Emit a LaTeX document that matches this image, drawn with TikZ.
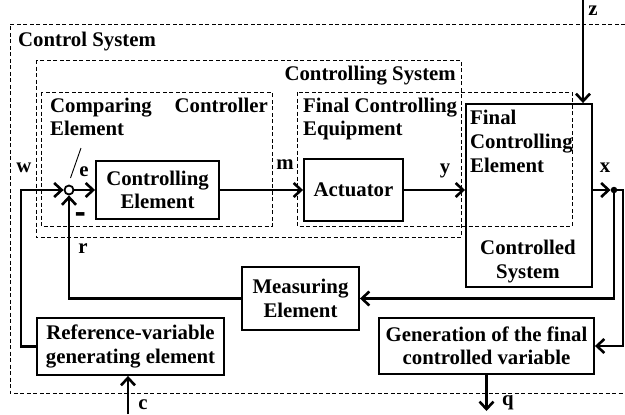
\documentclass[tikz,border=0pt]{standalone}
\usepackage{fontspec}
\setmainfont{Liberation Serif}
\usetikzlibrary{arrows.meta}
\begin{document}
\begin{tikzpicture}[x=1pt,y=-1pt,
  font=\fontsize{20.8}{23.5}\selectfont\bfseries,
  dashbox/.style={draw, dashed, line width=0.9pt, dash pattern=on 4pt off 2.5pt},
  blk/.style={draw, line width=1.9pt, align=center, inner sep=0pt},
  sig/.style={line width=2.9pt, -{Straight Barb[length=7.5pt,width=14pt,line width=2.6pt]}},
  lbl/.style={anchor=base, inner sep=0pt},
  txtw/.style={anchor=base west, inner sep=0pt},
  txte/.style={anchor=base east, inner sep=0pt},
]
\useasboundingbox (0,0) rectangle (625,415);

% dashed regions
\draw[dashbox] (625,24) -- (10,24) -- (10,393) -- (625,393);
\draw[dashbox] (36,60) rectangle (461,237);
\draw[dashbox] (41,92) rectangle (272,226);

% controlled system
\node[blk, minimum width=126pt, minimum height=183pt] (cs) at (529,195.5) {};
\draw[dashbox] (297,92) rectangle (572,226);

% blocks
\node[blk, minimum width=123pt, minimum height=58pt] (ce) at (157.5,190) {Controlling\\Element};
\node[blk, minimum width=99pt, minimum height=62pt] (act) at (353.5,190) {Actuator};
\node[blk, minimum width=117pt, minimum height=63pt] (meas) at (300.5,298.5) {Measuring\\Element};
\node[blk, minimum width=187pt, minimum height=57pt] (ref) at (130.5,346.5) {Reference-variable\\generating element};
\node[blk, minimum width=215pt, minimum height=56pt] (gen) at (486.5,346) {Generation of the final\\controlled variable};

\node[circle, draw, line width=1.8pt, fill=white, minimum size=9pt, inner sep=0pt] (cmp) at (69,190) {};
\node[circle, fill, minimum size=6.5pt, inner sep=0pt] (dot) at (614,190) {};

% region texts
\node[txtw] (tcs) at (18,46) {Control System};
\node[txte] (tcg) at (456,80) {Controlling System};
\node[txtw] (tc1) at (50,112) {Comparing};
\node[txte] (tc2) at (268,112) {Controller};
\node[txtw] (tc3) at (50,135) {Element};
\node[txtw] (tf1) at (303,112) {Final Controlling};
\node[txtw] (tf2) at (303,135) {Equipment};
\node[txtw] (tfe1) at (470,124) {Final};
\node[txtw] (tfe2) at (470,148) {Controlling};
\node[txtw] (tfe3) at (470,172) {Element};
\node[lbl] (tcd1) at (528,254) {Controlled};
\node[lbl] (tcd2) at (528,278) {System};

% connectors
\coordinate (wc) at (21,190);
\draw[sig] (ref.west) -| (wc) -- (cmp.west);
\draw[sig] (cmp.east) -- (ce.west);
\draw[sig] (ce.east) -- (act.west);
\draw[sig] (act.east) -- (act.east -| cs.west);
\draw[sig] (dot -| cs.east) -- (dot.west);
\coordinate (rc) at (623,190);
\draw[sig] (dot.center) -- (rc) |- (gen.east);
\draw[sig] (dot.center) |- (meas.east);
\draw[sig] (meas.west) -| (cmp.south);
\coordinate (zs) at (583,0);
\draw[sig] (zs) -- (zs |- cs.north);
\coordinate (cin) at (128,414);
\draw[sig] (cin) -- (cin |- ref.south);
\coordinate (qe) at (486.5,411);
\draw[sig] (gen.south) -- (qe);

% comparator marks
\draw[line width=0.9pt] (70.5,178) -- (81,148);
\node[lbl] (minus) at (80.5,226) {\scalebox{0.8}[2.5]{–}};

% signal labels
\node[lbl] (lw) at (24,172) {w};
\node[lbl] (le) at (84,176) {e};
\node[lbl] (lm) at (285,169) {m};
\node[lbl] (ly) at (445,173) {y};
\node[lbl] (lx) at (605,172) {x};
\node[lbl] (lr) at (83,253) {r};
\node[lbl] (lz) at (593,16) {z};
\node[lbl] (lc) at (143,409) {c};
\node[lbl] (lq) at (508,405) {q};
\end{tikzpicture}
\end{document}
